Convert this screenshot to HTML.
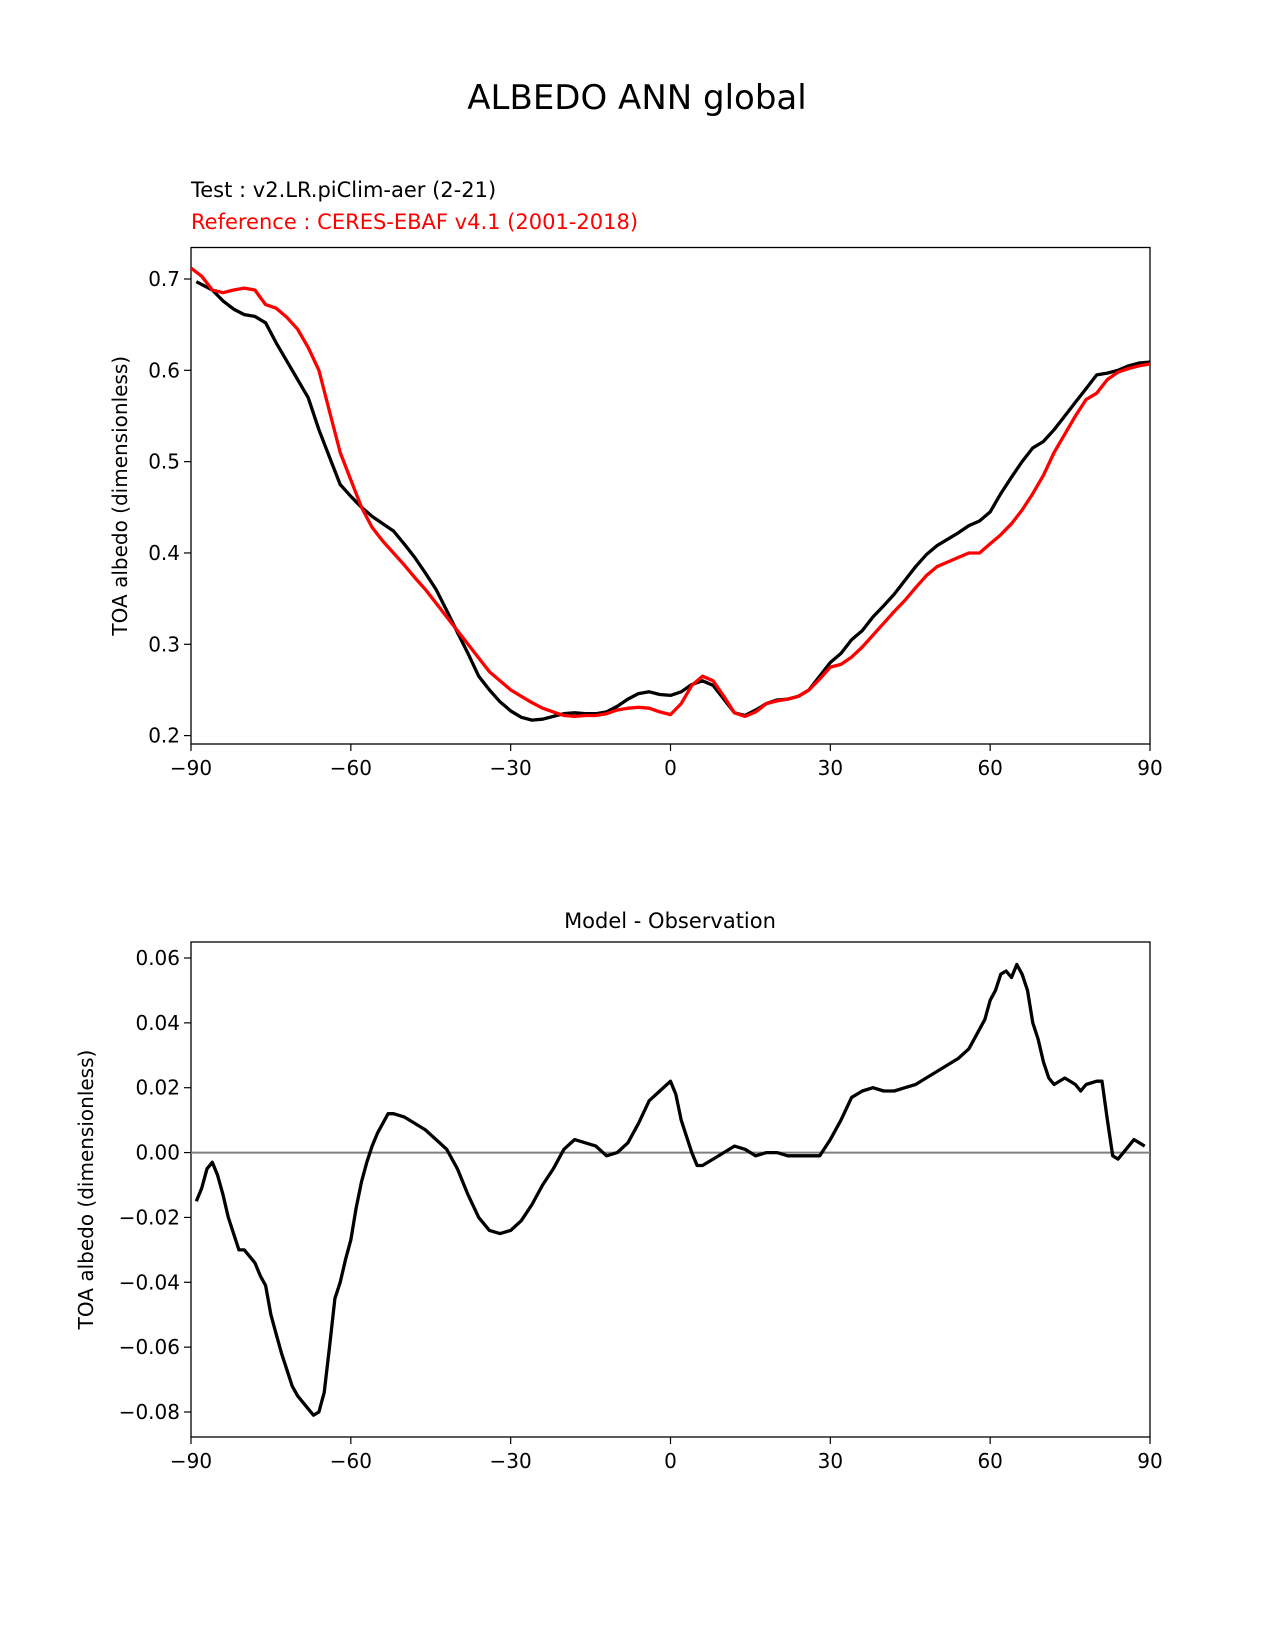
<!DOCTYPE html>
<html><head><meta charset="utf-8"><style>
html,body{margin:0;padding:0;background:#fff;overflow:hidden;width:1275px;height:1650px}
svg{display:block;font-family:"DejaVu Sans","Liberation Sans",sans-serif}
</style></head><body>
<svg id="c" width="1275" height="1650" viewBox="0 0 1275 1650" xmlns="http://www.w3.org/2000/svg">
<text x="637" y="109" font-size="34" text-anchor="middle">ALBEDO ANN global</text>
<text x="191" y="197" font-size="21">Test : v2.LR.piClim-aer (2-21)</text>
<text x="191" y="229" font-size="21" fill="#ff0000">Reference : CERES-EBAF v4.1 (2001-2018)</text>
<text x="670" y="928" font-size="21" text-anchor="middle">Model - Observation</text>
<g id="top"></g><g id="bot"></g>
</svg>
<script>
const latB=[-89,-86,-84,-82,-80,-78,-76,-74,-72,-70,-68,-66,-64,-62,-60,-58,-56,-54,-52,-50,-48,-46,-44,-42,-40,-38,-36,-34,-32,-30,-28,-26,-24,-22,-20,-18,-16,-14,-12,-10,-8,-6,-4,-2,0,2,4,6,8,10,12,14,16,18,20,22,24,26,28,30,32,34,36,38,40,42,44,46,48,50,52,54,56,58,60,62,64,66,68,70,72,74,76,78,80,82,84,86,88,90];
const testVals=[0.697,0.688,0.676,0.667,0.661,0.659,0.652,0.63,0.61,0.59,0.57,0.535,0.505,0.475,0.462,0.45,0.44,0.432,0.424,0.41,0.395,0.378,0.36,0.337,0.313,0.29,0.265,0.25,0.237,0.227,0.22,0.217,0.218,0.221,0.224,0.225,0.224,0.224,0.226,0.232,0.24,0.246,0.248,0.245,0.244,0.248,0.256,0.26,0.255,0.24,0.225,0.222,0.228,0.235,0.239,0.24,0.243,0.25,0.265,0.28,0.29,0.305,0.315,0.33,0.342,0.355,0.37,0.385,0.398,0.408,0.415,0.422,0.43,0.435,0.445,0.465,0.483,0.5,0.515,0.522,0.535,0.55,0.565,0.58,0.595,0.597,0.6,0.605,0.608,0.609];
const latR=[-90,-88,-86,-84,-82,-80,-78,-76,-74,-72,-70,-68,-66,-64,-62,-60,-58,-56,-54,-52,-50,-48,-46,-44,-42,-40,-38,-36,-34,-32,-30,-28,-26,-24,-22,-20,-18,-16,-14,-12,-10,-8,-6,-4,-2,0,2,4,6,8,10,12,14,16,18,20,22,24,26,28,30,32,34,36,38,40,42,44,46,48,50,52,54,56,58,60,62,64,66,68,70,72,74,76,78,80,82,84,86,88,90];
const refVals=[0.712,0.703,0.688,0.685,0.688,0.69,0.688,0.672,0.668,0.658,0.645,0.625,0.6,0.555,0.51,0.48,0.45,0.428,0.413,0.4,0.387,0.373,0.36,0.345,0.33,0.315,0.3,0.285,0.27,0.26,0.25,0.243,0.236,0.23,0.226,0.222,0.221,0.222,0.222,0.224,0.228,0.23,0.231,0.23,0.226,0.223,0.235,0.255,0.265,0.26,0.243,0.225,0.221,0.226,0.235,0.238,0.24,0.243,0.25,0.262,0.275,0.278,0.286,0.297,0.31,0.323,0.336,0.348,0.362,0.375,0.385,0.39,0.395,0.4,0.4,0.41,0.42,0.432,0.447,0.465,0.485,0.51,0.53,0.55,0.568,0.575,0.59,0.598,0.602,0.605,0.607];
const latD=[-89,-88,-87,-86,-85,-84,-83,-82,-81,-80,-79,-78,-77,-76,-75,-74,-73,-72,-71,-70,-69,-68,-67,-66,-65,-64,-63,-62,-61,-60,-59,-58,-57,-56,-55,-54,-53,-52,-50,-48,-46,-44,-42,-40,-38,-36,-34,-32,-30,-28,-26,-24,-22,-20,-18,-16,-14,-12,-10,-8,-6,-4,-2,0,1,2,3,4,5,6,8,10,12,14,16,18,20,22,24,26,28,30,32,34,36,38,40,42,44,46,48,50,52,54,56,58,59,60,61,62,63,64,65,66,67,68,69,70,71,72,74,76,77,78,80,81,82,83,84,85,86,87,88,89];
const diffVals=[-0.015,-0.011,-0.005,-0.003,-0.007,-0.013,-0.02,-0.025,-0.03,-0.03,-0.032,-0.034,-0.038,-0.041,-0.05,-0.056,-0.062,-0.067,-0.072,-0.075,-0.077,-0.079,-0.081,-0.08,-0.074,-0.06,-0.045,-0.04,-0.033,-0.027,-0.017,-0.009,-0.003,0.002,0.006,0.009,0.012,0.012,0.011,0.009,0.007,0.004,0.001,-0.005,-0.013,-0.02,-0.024,-0.025,-0.024,-0.021,-0.016,-0.01,-0.005,0.001,0.004,0.003,0.002,-0.001,0.0,0.003,0.009,0.016,0.019,0.022,0.018,0.01,0.005,0.0,-0.004,-0.004,-0.002,0.0,0.002,0.001,-0.001,0.0,0.0,-0.001,-0.001,-0.001,-0.001,0.004,0.01,0.017,0.019,0.02,0.019,0.019,0.02,0.021,0.023,0.025,0.027,0.029,0.032,0.038,0.041,0.047,0.05,0.055,0.056,0.054,0.058,0.055,0.05,0.04,0.035,0.028,0.023,0.021,0.023,0.021,0.019,0.021,0.022,0.022,0.01,-0.001,-0.002,0.0,0.002,0.004,0.003,0.002];
const xTicks=[-90,-60,-30,0,30,60,90];
const xTickLabels=["\u221290","\u221260","\u221230","0","30","60","90"];
const topYTicks=[0.2,0.3,0.4,0.5,0.6,0.7];
const topYLabels=["0.2","0.3","0.4","0.5","0.6","0.7"];
const botYTicks=[-0.08,-0.06,-0.04,-0.02,0,0.02,0.04,0.06];
const botYLabels=["\u22120.08","\u22120.06","\u22120.04","\u22120.02","0.00","0.02","0.04","0.06"];
const NS="http://www.w3.org/2000/svg";
function mk(p,t,a){const e=document.createElementNS(NS,t);for(const k in a)e.setAttribute(k,a[k]);p.appendChild(e);return e;}
const L=191,R=1150;
const x=v=>L+(v+90)/180*(R-L);
const yT=v=>735.6-(v-0.2)/0.5*456.6;
const yB=v=>958+(0.06-v)/0.14*454;
function axes(g,top,bot,yf,yt,yl,ylabel,lblX,pre){
  let r=mk(g,'rect',{x:L,y:top,width:R-L,height:bot-top,fill:'none',stroke:'#000','stroke-width':1.3});
  
  
  xTicks.forEach((t,i)=>{
    mk(g,'line',{x1:x(t),x2:x(t),y1:bot,y2:bot+7,stroke:'#000','stroke-width':1.2});
    let tx=mk(g,'text',{x:x(t),y:bot+31,'font-size':20,'text-anchor':'middle'});tx.textContent=xTickLabels[i];
    
    
  });
  yt.forEach((t,i)=>{
    mk(g,'line',{x1:L-7,x2:L,y1:yf(t),y2:yf(t),stroke:'#000','stroke-width':1.2});
    let tx=mk(g,'text',{x:L-11,y:yf(t)+7,'font-size':20,'text-anchor':'end'});tx.textContent=yl[i];
    
    
  });
  let yc=(top+bot)/2;
  let t=mk(g,'text',{x:lblX,y:yc,'font-size':20,'text-anchor':'middle',transform:`rotate(-90 ${lblX} ${yc})`});t.textContent=ylabel;
  
  
}
function line(g,lats,vals,yf,col,name){
  const d=lats.map((l,i)=>(i?'L':'M')+x(l).toFixed(1)+','+yf(vals[i]).toFixed(1)).join('');
  const p=mk(g,'path',{d:d,fill:'none',stroke:col,'stroke-width':3.3,'stroke-linejoin':'round'});
  
  
}
const gt=document.getElementById('top'),gb=document.getElementById('bot');
axes(gt,247.5,744,yT,topYTicks,topYLabels,'TOA albedo (dimensionless)',127,'top-');
line(gt,latB,testVals,yT,'#000','test-line');
line(gt,latR,refVals,yT,'#ff0000','reference-line');
axes(gb,942,1437,yB,botYTicks,botYLabels,'TOA albedo (dimensionless)',93,'diff-');
let z=mk(gb,'line',{x1:L,x2:R,y1:yB(0),y2:yB(0),stroke:'#808080','stroke-width':2});


line(gb,latD,diffVals,yB,'#000','difference-line');
</script>
</body></html>
